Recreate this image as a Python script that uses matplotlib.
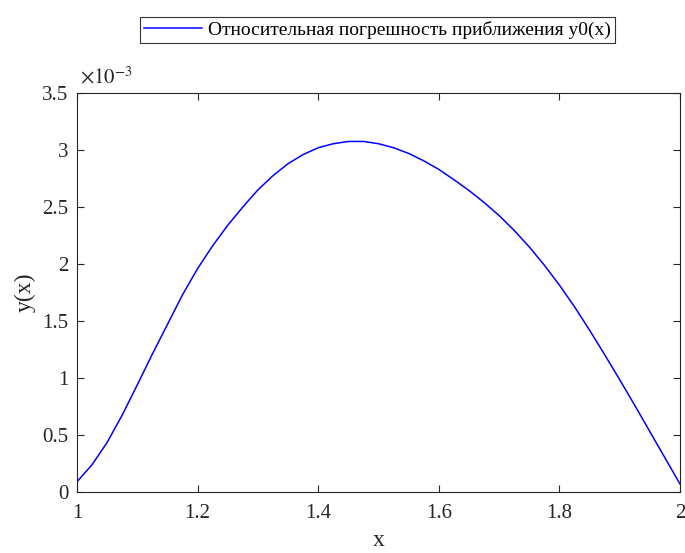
import numpy as np
import matplotlib
matplotlib.use("Agg")
import matplotlib.pyplot as plt

# relative error of y0(x), values in units of 1e-3
x_vals = [1.000, 1.025, 1.050, 1.075, 1.100, 1.125, 1.150, 1.175, 1.200, 1.225,
          1.250, 1.275, 1.300, 1.325, 1.350, 1.375, 1.400, 1.425, 1.450, 1.475,
          1.500, 1.525, 1.550, 1.575, 1.600, 1.625, 1.650, 1.675, 1.700, 1.725,
          1.750, 1.775, 1.800, 1.825, 1.850, 1.875, 1.900, 1.925, 1.950, 1.975,
          2.000]
err_e3 = [0.09, 0.24, 0.435, 0.675, 0.94, 1.21, 1.47, 1.73, 1.96, 2.16,
          2.34, 2.50, 2.65, 2.775, 2.88, 2.96, 3.02, 3.055, 3.075, 3.075,
          3.055, 3.02, 2.97, 2.905, 2.83, 2.74, 2.645, 2.54, 2.425, 2.295,
          2.15, 1.99, 1.815, 1.625, 1.42, 1.205, 0.985, 0.76, 0.53, 0.30,
          0.07]

x_ticks = [1, 1.2, 1.4, 1.6, 1.8, 2]
x_labels = ["1", "1.2", "1.4", "1.6", "1.8", "2"]
y_ticks = [0, 0.5, 1, 1.5, 2, 2.5, 3, 3.5]
y_labels = ["0", "0.5", "1", "1.5", "2", "2.5", "3", "3.5"]
legend_label = "Относительная погрешность приближения y0(x)"

plt.rcParams["font.family"] = ["Liberation Serif", "DejaVu Serif"]
plt.rcParams["mathtext.fontset"] = "stix"

fig = plt.figure(figsize=(6.85, 5.53), dpi=100)
ax = fig.add_axes([77 / 685, 61 / 553, 603 / 685, 399 / 553])

xs = np.array(x_vals)
ys = np.array(err_e3) * 1e-3
line, = ax.plot(xs, ys, color="blue", lw=1.1)

ax.set_xlim(1, 2)
ax.set_ylim(0, 3.5e-3)
ax.set_xticks(x_ticks)
ax.set_xticklabels(x_labels)
ax.set_yticks([v * 1e-3 for v in y_ticks])
ax.set_yticklabels(y_labels)

edge = "#262626"
for s in ax.spines.values():
    s.set_color(edge)
    s.set_linewidth(0.8)
ax.tick_params(direction="in", top=True, right=True, length=5, width=0.8,
               color=edge, labelsize=15, labelcolor=edge)
ax.tick_params(axis="x", pad=9)
ax.tick_params(axis="y", pad=6)

ax.set_xlabel("x", fontsize=17, color=edge, labelpad=5)
ax.set_ylabel("y(x)", fontsize=17, color=edge, labelpad=5)
ax.text(0.005, 1.012, r"$\times10^{-3}$", transform=ax.transAxes, fontsize=15,
        color=edge, ha="left", va="bottom")

leg = fig.legend([line], [legend_label], loc="center",
                 bbox_to_anchor=(377.5 / 685, 1 - 30 / 553), fontsize=14,
                 frameon=True, fancybox=False, handlelength=3.0,
                 handletextpad=0.3, borderpad=0.2, borderaxespad=0)
leg.get_frame().set_edgecolor("black")
leg.get_frame().set_linewidth(0.8)

fig.savefig("out.png", dpi=100)
